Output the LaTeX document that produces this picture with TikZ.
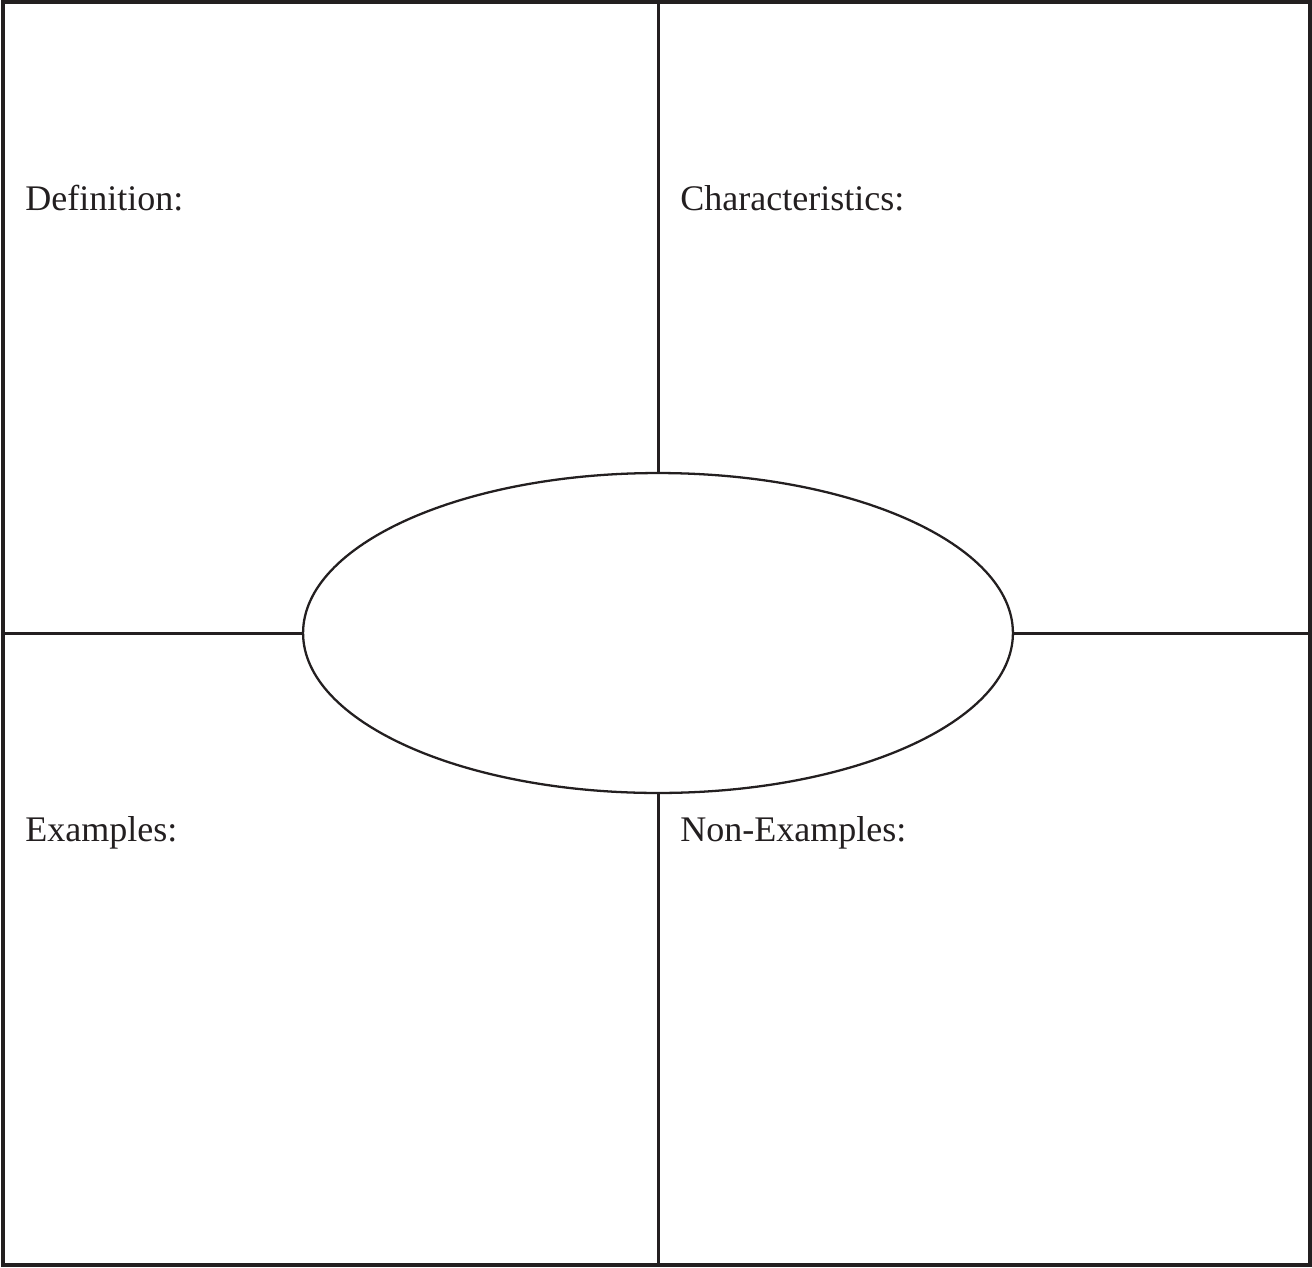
\documentclass[tikz,border=0pt]{standalone}
\usepackage{fontspec}
\setmainfont{Liberation Serif}
\usepackage{tikz}
\usetikzlibrary{shapes.geometric}

\definecolor{inkgray}{HTML}{231F20}

\begin{document}
\begin{tikzpicture}[x=0.02cm, y=-0.02cm,
    frame/.style={
        draw=inkgray,
        line width=2pt,
        line cap=rect
    },
    divider/.style={
        draw=inkgray,
        line width=1.7pt
    },
    termoval/.style={
        ellipse,
        draw=inkgray,
        line width=1.3pt,
        inner sep=0pt,
        minimum width=14.2cm,
        minimum height=6.4cm
    },
    cornerlabel/.style={
        anchor=base west,
        inner sep=0pt,
        text=inkgray,
        font=\fontsize{20.5}{24}\selectfont
    }
]

\path[use as bounding box] (0,0) rectangle (1312,1268);

% outer frame
\coordinate (nw) at (3,2);
\coordinate (se) at (1310,1265);
\coordinate (top) at (658,2);
\coordinate (bottom) at (658,1265);
\coordinate (left) at (3,633);
\coordinate (right) at (1310,633);

\draw[frame]
(nw) rectangle (se);

% central term
\node[termoval] (term) at (658,633) {};

\draw[divider] (term.north) -- (top);
\draw[divider] (term.south) -- (bottom);
\draw[divider] (term.west) -- (left);
\draw[divider] (term.east) -- (right);

% quadrant labels
\node[cornerlabel] (definition) at (25,210) {Definition:};
\node[cornerlabel] (characteristics) at (680,210) {Characteristics:};
\node[cornerlabel] (examples) at (25,841) {Examples:};
\node[cornerlabel] (nonexamples) at (680,841) {Non-Examples:};

\end{tikzpicture}
\end{document}
